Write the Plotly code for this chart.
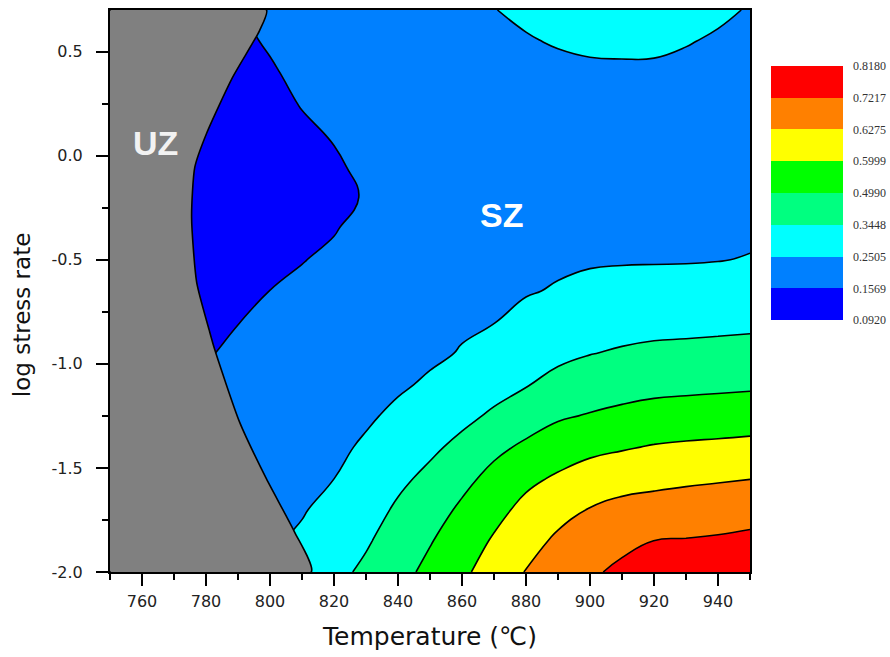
import numpy as np
import plotly.graph_objects as go

# ---------------- data ----------------
temperatures = [750, 760, 770, 780, 790, 800, 810, 820, 830, 840, 850,
                860, 870, 880, 890, 900, 910, 920, 930, 940, 950]
log_stress_rates = [-2.0, -1.85, -1.7, -1.55, -1.4, -1.25, -1.1, -0.95, -0.8, -0.65,
                    -0.5, -0.35, -0.2, -0.05, 0.1, 0.25, 0.4, 0.55, 0.7]

# efficiency values, one list per temperature (bottom -> top in log stress rate)
efficiency_by_temperature = [
    [0.2177, 0.2065, 0.1953, 0.1840, 0.1728, 0.1616, 0.1524, 0.1446, 0.1368, 0.1290, 0.1212, 0.1134, 0.1069, 0.1082, 0.1147, 0.1212, 0.1277, 0.1342, 0.1407],
    [0.2224, 0.2112, 0.2000, 0.1887, 0.1775, 0.1663, 0.1556, 0.1478, 0.1400, 0.1322, 0.1245, 0.1167, 0.1095, 0.1108, 0.1173, 0.1238, 0.1303, 0.1368, 0.1433],
    [0.2271, 0.2159, 0.2046, 0.1934, 0.1822, 0.1709, 0.1597, 0.1511, 0.1433, 0.1355, 0.1277, 0.1199, 0.1121, 0.1134, 0.1199, 0.1264, 0.1329, 0.1394, 0.1459],
    [0.2317, 0.2205, 0.2093, 0.1981, 0.1869, 0.1756, 0.1644, 0.1542, 0.1462, 0.1382, 0.1302, 0.1222, 0.1141, 0.1161, 0.1229, 0.1298, 0.1367, 0.1435, 0.1504],
    [0.2411, 0.2306, 0.2199, 0.2093, 0.1986, 0.1881, 0.1775, 0.1668, 0.1563, 0.1467, 0.1371, 0.1275, 0.1179, 0.1195, 0.1267, 0.1339, 0.1412, 0.1484, 0.1556],
    [0.2500, 0.2401, 0.2298, 0.2194, 0.2091, 0.1987, 0.1884, 0.1781, 0.1677, 0.1573, 0.1465, 0.1357, 0.1248, 0.1269, 0.1354, 0.1439, 0.1525, 0.1630, 0.1756],
    [0.2860, 0.2623, 0.2449, 0.2337, 0.2226, 0.2115, 0.2002, 0.1891, 0.1780, 0.1668, 0.1557, 0.1451, 0.1344, 0.1381, 0.1490, 0.1600, 0.1714, 0.1829, 0.1943],
    [0.3214, 0.2976, 0.2736, 0.2501, 0.2381, 0.2262, 0.2141, 0.2021, 0.1901, 0.1781, 0.1662, 0.1548, 0.1457, 0.1513, 0.1611, 0.1718, 0.1825, 0.1930, 0.2037],
    [0.3719, 0.3353, 0.3096, 0.2841, 0.2585, 0.2425, 0.2310, 0.2194, 0.2078, 0.1962, 0.1847, 0.1731, 0.1616, 0.1702, 0.1787, 0.1873, 0.1959, 0.2044, 0.2131],
    [0.4518, 0.4082, 0.3645, 0.3270, 0.2945, 0.2620, 0.2432, 0.2320, 0.2207, 0.2094, 0.1982, 0.1869, 0.1756, 0.1834, 0.1913, 0.1990, 0.2068, 0.2147, 0.2224],
    [0.5230, 0.4899, 0.4333, 0.3766, 0.3291, 0.2936, 0.2580, 0.2416, 0.2303, 0.2190, 0.2076, 0.1963, 0.1850, 0.1927, 0.2006, 0.2084, 0.2161, 0.2240, 0.2318],
    [0.5817, 0.5483, 0.5150, 0.4581, 0.3793, 0.3248, 0.2893, 0.2536, 0.2437, 0.2362, 0.2287, 0.2212, 0.2137, 0.2062, 0.2090, 0.2171, 0.2251, 0.2331, 0.2411],
    [0.6118, 0.6027, 0.5701, 0.5271, 0.4645, 0.3647, 0.3163, 0.2807, 0.2492, 0.2407, 0.2322, 0.2236, 0.2151, 0.2065, 0.2103, 0.2205, 0.2305, 0.2405, 0.2496],
    [0.6313, 0.6179, 0.6070, 0.5782, 0.5156, 0.4284, 0.3401, 0.3048, 0.2695, 0.2460, 0.2363, 0.2264, 0.2167, 0.2070, 0.2117, 0.2235, 0.2355, 0.2474, 0.2580],
    [0.6731, 0.6423, 0.6192, 0.6033, 0.5505, 0.4820, 0.3880, 0.3258, 0.2906, 0.2554, 0.2409, 0.2297, 0.2186, 0.2074, 0.2129, 0.2267, 0.2405, 0.2537, 0.2656],
    [0.7151, 0.6731, 0.6312, 0.6116, 0.5766, 0.5052, 0.4230, 0.3425, 0.3049, 0.2673, 0.2439, 0.2318, 0.2197, 0.2077, 0.2136, 0.2286, 0.2436, 0.2578, 0.2712],
    [0.7313, 0.7107, 0.6537, 0.6170, 0.5914, 0.5207, 0.4421, 0.3601, 0.3128, 0.2735, 0.2454, 0.2328, 0.2204, 0.2078, 0.2138, 0.2289, 0.2440, 0.2591, 0.2741],
    [0.7438, 0.7220, 0.6634, 0.6202, 0.6016, 0.5342, 0.4567, 0.3744, 0.3183, 0.2770, 0.2459, 0.2333, 0.2205, 0.2079, 0.2137, 0.2288, 0.2438, 0.2585, 0.2731],
    [0.7554, 0.7263, 0.6721, 0.6228, 0.6038, 0.5414, 0.4634, 0.3798, 0.3206, 0.2787, 0.2465, 0.2342, 0.2220, 0.2097, 0.2141, 0.2269, 0.2397, 0.2529, 0.2675],
    [0.7679, 0.7322, 0.6792, 0.6248, 0.6052, 0.5470, 0.4703, 0.3858, 0.3242, 0.2842, 0.2485, 0.2366, 0.2245, 0.2124, 0.2151, 0.2252, 0.2353, 0.2455, 0.2580],
    [0.7795, 0.7406, 0.6892, 0.6269, 0.6069, 0.5526, 0.4768, 0.3915, 0.3280, 0.2909, 0.2537, 0.2386, 0.2257, 0.2127, 0.2140, 0.2224, 0.2308, 0.2393, 0.2477],
]

contour_levels = [0.0920, 0.1569, 0.2505, 0.3448, 0.4990, 0.5999, 0.6275, 0.7217, 0.8180]
level_labels = ["0.0920", "0.1569", "0.2505", "0.3448", "0.4990",
                "0.5999", "0.6275", "0.7217", "0.8180"]
band_colors = ["#0000FF", "#0080FF", "#00FFFF", "#00FF80",
               "#00FF00", "#FFFF00", "#FF8000", "#FF0000"]

# boundary of the unstable zone (UZ)
uz_temperatures = [750, 798.9, 796.7, 788.3, 780.2, 776.5, 775.5, 777.1,
                   781.2, 782.7, 790.5, 798.9, 807.6, 812.9, 750, 750]
uz_log_rates = [0.7, 0.7, 0.60, 0.376, 0.108, -0.055, -0.294, -0.610,
                -0.849, -0.93, -1.28, -1.553, -1.806, -2.0, -2.0, 0.7]

x_tick_vals = [760, 780, 800, 820, 840, 860, 880, 900, 920, 940]
y_tick_vals = [-2.0, -1.5, -1.0, -0.5, 0.0, 0.5]
y_tick_text = ["-2.0", "-1.5", "-1.0", "-0.5", "0.0", "0.5"]

# ---------------- figure ----------------
eta = np.array(efficiency_by_temperature).T
band_position = np.interp(eta, contour_levels, np.arange(len(contour_levels)))

n_bands = len(band_colors)
colorscale = ([[0.0, "white"]]
              + [[(i + 1) / (n_bands + 1), c] for i, c in enumerate(band_colors)]
              + [[1.0, "white"]])
level_contours = dict(start=0, end=len(contour_levels) - 1, size=1)

fig = go.Figure()
# filled bands (no lines, so the colour bar has no separators)
fig.add_trace(go.Contour(
    x=temperatures, y=log_stress_rates, z=band_position,
    autocontour=False,
    contours=dict(coloring="fill", showlines=False, **level_contours),
    colorscale=colorscale,
    line=dict(width=0, smoothing=1.3),
    hoverinfo="skip",
    colorbar=dict(
        tickvals=list(range(len(contour_levels))), ticktext=level_labels,
        tickfont=dict(family="Liberation Serif", size=12, color="#333333"),
        ticks="outside", ticklen=8, tickcolor="rgba(0,0,0,0)",
        thickness=72, thicknessmode="pixels",
        len=286, lenmode="pixels",
        x=1.0328, xanchor="left", xpad=0,
        y=0.9288, yanchor="top", ypad=0,
        outlinewidth=0,
    ),
))
# black iso-lines
fig.add_trace(go.Contour(
    x=temperatures, y=log_stress_rates, z=band_position,
    autocontour=False,
    contours=dict(coloring="none", showlines=True, **level_contours),
    line=dict(color="black", width=1.6, smoothing=1.3),
    showscale=False, hoverinfo="skip",
))

fig.add_trace(go.Scatter(
    x=uz_temperatures, y=uz_log_rates, mode="lines",
    fill="toself", fillcolor="#808080",
    line=dict(color="black", width=1.6, shape="spline", smoothing=0.6),
    hoverinfo="skip", showlegend=False,
))

fig.add_annotation(x=764.1, y=0.062, text="<b>UZ</b>", showarrow=False,
                   font=dict(family="Liberation Sans", size=34, color="#f2f2f2"))
fig.add_annotation(x=872.2, y=-0.284, text="<b>SZ</b>", showarrow=False,
                   font=dict(family="Liberation Sans", size=34, color="white"))
fig.add_annotation(xref="paper", yref="paper", x=-0.1375, y=0.457,
                   xanchor="center", yanchor="middle",
                   text="log stress rate", textangle=-90, showarrow=False,
                   font=dict(family="DejaVu Sans", size=23, color="#111111"))

axis_common = dict(
    showline=True, linecolor="black", linewidth=2, mirror=True,
    showgrid=False, zeroline=False,
    ticks="outside", ticklen=12, tickwidth=2, tickcolor="black",
    tickfont=dict(family="DejaVu Sans", size=16, color="#222222"),
)
fig.update_xaxes(
    range=[750, 950], tickvals=x_tick_vals,
    minor=dict(dtick=10, tick0=750, ticks="outside", ticklen=6, tickwidth=2, tickcolor="black"),
    title=dict(text="Temperature (℃)", font=dict(family="DejaVu Sans", size=25, color="#111111"),
               standoff=17),
    ticklabelstandoff=2,
    **axis_common,
)
fig.update_yaxes(
    range=[-2.0, 0.7], tickvals=y_tick_vals, ticktext=y_tick_text,
    minor=dict(dtick=0.25, tick0=0, ticks="outside", ticklen=6, tickwidth=2, tickcolor="black"),
    ticklabelstandoff=10,
    **axis_common,
)

fig.update_layout(
    width=890, height=657,
    margin=dict(l=110, r=140, t=10, b=85, autoexpand=False),
    plot_bgcolor="white", paper_bgcolor="white",
    showlegend=False,
)

fig.write_html("out.html")
